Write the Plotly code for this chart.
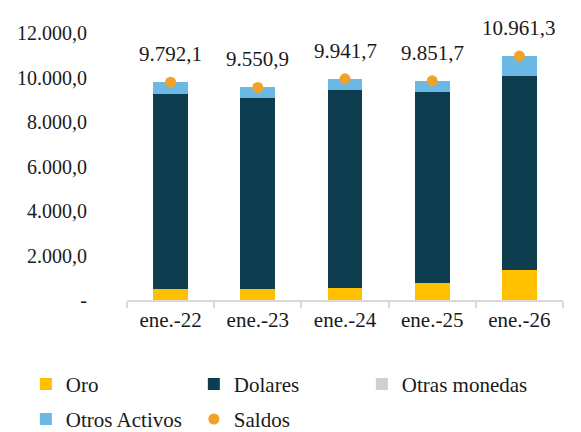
import plotly.graph_objects as go

categories = ["ene.-22", "ene.-23", "ene.-24", "ene.-25", "ene.-26"]
oro = [502, 516, 560, 770, 1336]
dolares = [8765, 8542, 8857, 8575, 8742]
otras_monedas = [0, 0, 0, 0, 0]
otros_activos = [525, 493, 525, 507, 883]
saldos = [9792.1, 9550.9, 9941.7, 9851.7, 10961.3]

tick_vals = [0, 2000, 4000, 6000, 8000, 10000, 12000]
tick_text = ["-", "2.000,0", "4.000,0", "6.000,0", "8.000,0", "10.000,0", "12.000,0"]

FONT = "'Liberation Serif', 'Times New Roman', 'DejaVu Serif', serif"


def fmt(v):
    s = f"{v:,.1f}"
    return s.replace(",", "X").replace(".", ",").replace("X", ".")


fig = go.Figure()
fig.add_trace(go.Bar(x=categories, y=oro, name="Oro", marker_color="#FFC000",
                     marker_line_width=0, legend="legend"))
fig.add_trace(go.Bar(x=categories, y=dolares, name="Dolares", marker_color="#0F3D50",
                     marker_line_width=0, legend="legend"))
fig.add_trace(go.Bar(x=categories, y=otras_monedas, name="Otras monedas",
                     marker_color="#D0CECE", marker_line_width=0, legend="legend"))
fig.add_trace(go.Bar(x=categories, y=otros_activos, name="Otros Activos",
                     marker_color="#6CB8E4", marker_line_width=0, legend="legend2"))
fig.add_trace(go.Scatter(x=categories, y=saldos, name="Saldos", mode="markers",
                         marker=dict(color="#F0A22A", size=11, symbol="circle"),
                         legend="legend2"))

for c, v in zip(categories, saldos):
    fig.add_annotation(x=c, y=v, text=fmt(v), showarrow=False, yshift=28,
                       font=dict(family=FONT, size=21, color="#1a1a1a"))

legend_common = dict(orientation="h", x=-0.232, xanchor="left", yanchor="middle",
                     font=dict(family=FONT, size=21, color="#1a1a1a"),
                     entrywidth=123, entrywidthmode="pixels",
                     traceorder="normal", itemwidth=30, bgcolor="rgba(0,0,0,0)")

fig.update_layout(
    width=581, height=432,
    barmode="stack", bargap=0.6,
    plot_bgcolor="white", paper_bgcolor="white",
    margin=dict(l=119, r=26, t=25, b=139.5, autoexpand=False),
    font=dict(family=FONT, size=20, color="#1a1a1a"),
    showlegend=True,
    legend=dict(y=-0.316, **legend_common),
    legend2=dict(y=-0.447, **legend_common),
)
fig.update_xaxes(type="category", showline=True, linecolor="#D9D9D9", linewidth=1.5,
                 ticks="outside", tickson="boundaries", ticklen=6, tickcolor="#D9D9D9",
                 tickwidth=1.5, showgrid=False, tickfont=dict(size=21))
fig.update_yaxes(range=[0, 12000], tickvals=tick_vals, ticktext=tick_text,
                 showgrid=False, showline=False, zeroline=False, ticks="",
                 ticklabelstandoff=39, tickfont=dict(size=20))

fig.write_html("out.html")
